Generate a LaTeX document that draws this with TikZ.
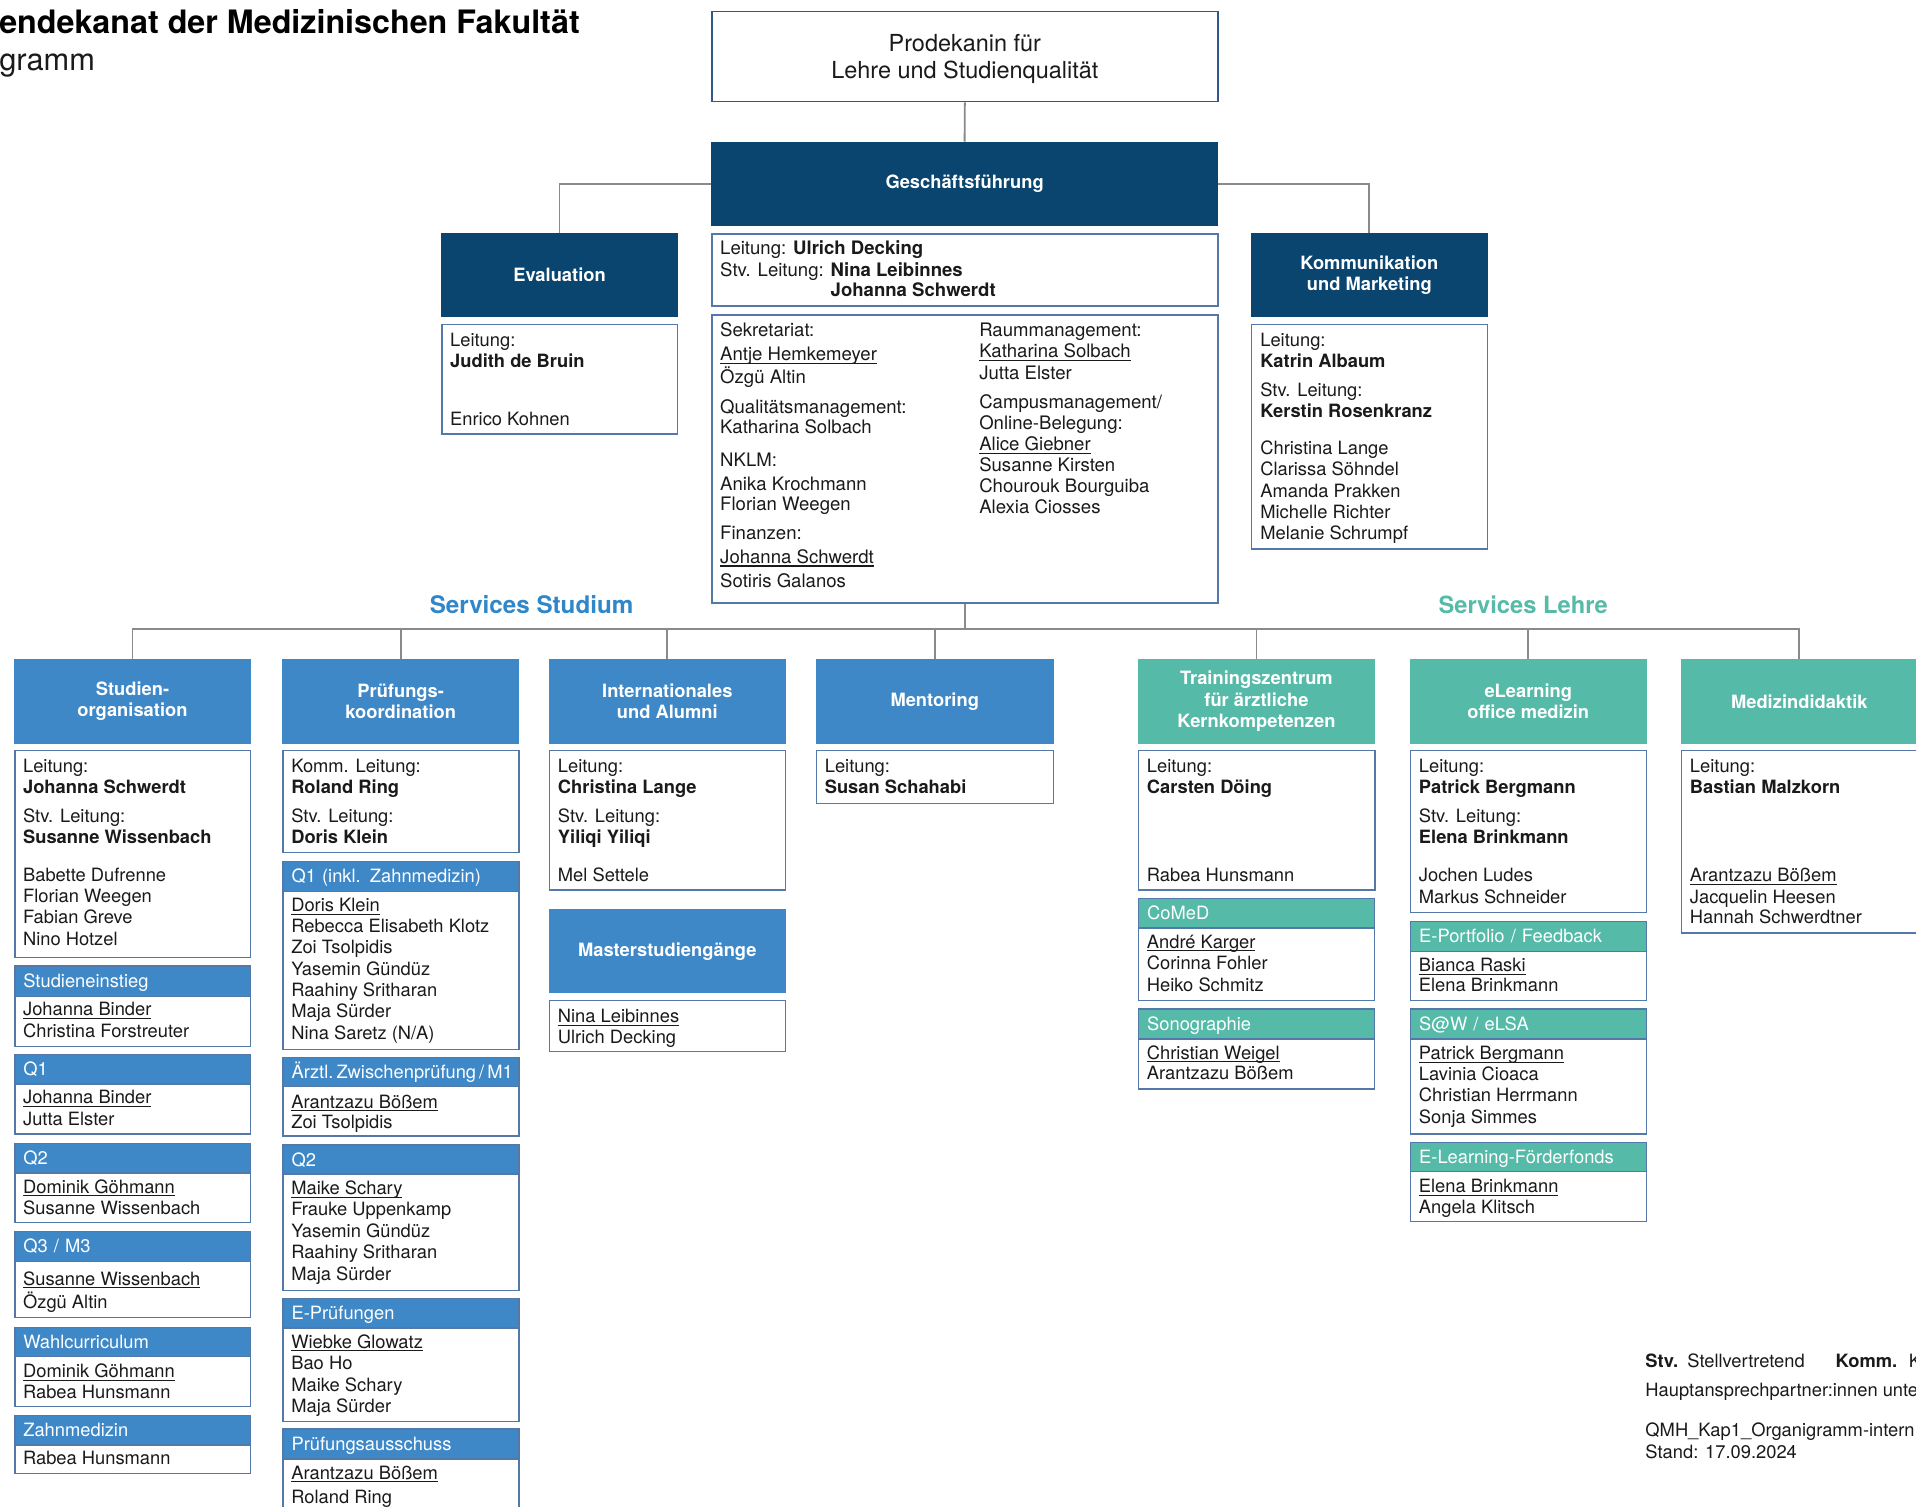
\documentclass[tikz,border=0pt]{standalone}
\usepackage{fontspec}
\setmainfont{TeX Gyre Heros}
\definecolor{navy}{HTML}{0A4570}
\definecolor{mblue}{HTML}{3E88C8}
\definecolor{tealc}{HTML}{55BAA8}
\definecolor{sblue}{HTML}{2F86C8}
\definecolor{bordc}{HTML}{5478A8}
\definecolor{bordd}{HTML}{2E5A8A}
\definecolor{lineg}{HTML}{8A8A8A}
\definecolor{txtc}{HTML}{1A1A1A}
\newcommand\bodyfont{\fontsize{7.5pt}{9pt}\selectfont}
\newcommand\midfont{\fontsize{7.6pt}{9pt}\selectfont}
\newcommand\hdrfont{\fontsize{7.5pt}{8.7pt}\selectfont\bfseries}
\newcommand\prodfont{\fontsize{9.6pt}{10.85pt}\selectfont}
\newcommand\ulname[1]{\setbox0=\hbox{#1}\rlap{\vrule height -0.85pt depth 1.3pt width \wd0}\box0}
\newcount\tcnt
\newcommand\txl[4][bodyt]{\global\advance\tcnt by 1\relax\edef\tnm{t\the\tcnt}\node[#1] (\tnm) at (#2,#3) {#4};}
\newcommand\bx[6]{\node[#2,minimum width=#5*0.5pt,minimum height=#6*0.5pt] (#1) at (#3,#4) {};}
\newcommand\hdr[7]{\node[#2,minimum width=#5*0.5pt,minimum height=#6*0.5pt] (#1) at (#3,#4) {#7};}
% name, fill, x, top, divider, bottom, label
\newcommand\subsec[7]{%
  \node[subhdr,fill=#2,minimum width=96.5pt,minimum height=(#5-#4)*0.5pt] (#1h) at (#3,#4) {#7};
  \node[wbox,minimum width=96.5pt,minimum height=(#6-#5)*0.5pt] (#1b) at (#3,#5) {};}
\begin{document}
\begin{tikzpicture}[x=0.5pt,y=-0.5pt,
 conn/.style={draw=lineg,line width=0.75pt},
 hdrbase/.style={anchor=north west,inner sep=0pt,text=white,font=\hdrfont,align=center},
 navyhdr/.style={hdrbase,fill=navy,draw=navy},
 bluehdr/.style={hdrbase,fill=mblue,draw=mblue},
 tealhdr/.style={hdrbase,fill=tealc,draw=tealc},
 wbox/.style={anchor=north west,inner sep=0pt,fill=white,draw=bordc,line width=0.6pt},
 subhdr/.style={anchor=north west,draw=bordc,line width=0.6pt,text=white,font=\bodyfont,inner xsep=3.5pt,inner ysep=0pt,text width=89.5pt,align=left,text height=5.4pt,text depth=0pt},
 bodyt/.style={anchor=base west,inner sep=0pt,font=\bodyfont,text=txtc},
 midt/.style={bodyt,font=\midfont}]
\useasboundingbox (0,0) rectangle (1568,1233);
\clip (0,0) rectangle (1568,1233);
\fill[white] (0,0) rectangle (1568,1233);

% ---------- title ----------
\node[anchor=base west,inner sep=0pt,font=\fontsize{13.2pt}{15pt}\selectfont\bfseries,text=black] (title) at (-1,27.5) {endekanat der Medizinischen Fakultät};
\node[anchor=base west,inner sep=0pt,font=\fontsize{12.6pt}{15pt}\selectfont,text=txtc] (subtitle) at (-1,57.8) {gramm};

% ---------- top level ----------
\node[wbox,draw=bordd,minimum width=207pt,minimum height=36.75pt] (pd) at (582,9) {};
\node[inner sep=0pt,font=\prodfont,align=center,text=txtc,yshift=-1pt] (pdt) at (pd.center) {Prodekanin für\\Lehre und Studienqualität};
\hdr{gf}{navyhdr}{582}{115.8}{414}{68.6}{Geschäftsführung}
\bx{gl}{wbox}{582}{190.8}{414}{59.2}
\txl[midt]{589}{208.6}{Leitung: \textbf{Ulrich Decking}}
\txl[midt]{589}{226.4}{Stv. Leitung: \textbf{Nina Leibinnes}}
\txl[midt]{589}{243}{\phantom{Stv. Leitung: }\textbf{Johanna Schwerdt}}
\bx{sek}{wbox}{582}{257}{414}{236}
\txl[midt]{589}{275}{Sekretariat:}
\txl[midt]{589}{295}{\ulname{Antje Hemkemeyer}}
\txl[midt]{589}{313.7}{Özgü Altin}
\txl[midt]{589}{338}{Qualitätsmanagement:}
\txl[midt]{589}{355}{Katharina Solbach}
\txl[midt]{589}{381.7}{NKLM:}
\txl[midt]{589}{401}{Anika Krochmann}
\txl[midt]{589}{418}{Florian Weegen}
\txl[midt]{589}{441.5}{Finanzen:}
\txl[midt]{589}{461}{\ulname{Johanna Schwerdt}}
\txl[midt]{589}{481}{Sotiris Galanos}
\txl[midt]{801}{275}{Raummanagement:}
\txl[midt]{801}{292.7}{\ulname{Katharina Solbach}}
\txl[midt]{801}{310.5}{Jutta Elster}
\txl[midt]{801}{334}{Campusmanagement/}
\txl[midt]{801}{351.6}{Online-Belegung:}
\txl[midt]{801}{368.7}{\ulname{Alice Giebner}}
\txl[midt]{801}{385.9}{Susanne Kirsten}
\txl[midt]{801}{403.3}{Chourouk Bourguiba}
\txl[midt]{801}{420.5}{Alexia Ciosses}

\hdr{evh}{navyhdr}{361}{190.7}{193}{68.3}{Evaluation}
\bx{evb}{wbox}{361}{265}{193}{89.6}
\txl{368}{283.7}{Leitung:}
\txl{368}{301}{\textbf{Judith de Bruin}}
\txl{368}{347.8}{Enrico Kohnen}

\hdr{kmh}{navyhdr}{1023.7}{190.7}{193}{68.3}{Kommunikation\\und Marketing}
\bx{kmb}{wbox}{1023.7}{265}{193}{183.6}
\txl{1031}{283.7}{Leitung:}
\txl{1031}{300.6}{\textbf{Katrin Albaum}}
\txl{1031}{324.6}{Stv. Leitung:}
\txl{1031}{341.8}{\textbf{Kerstin Rosenkranz}}
\txl{1031}{372.3}{Christina Lange}
\txl{1031}{389.5}{Clarissa Söhndel}
\txl{1031}{407}{Amanda Prakken}
\txl{1031}{424.2}{Michelle Richter}
\txl{1031}{441.3}{Melanie Schrumpf}

\draw[conn] (pd.south) -- (gf.north);
\draw[conn] (gf.west) -| (evh.north);
\draw[conn] (gf.east) -| (kmh.north);

% ---------- section labels ----------
\node[anchor=base,inner sep=0pt,font=\fontsize{9.9pt}{11pt}\selectfont\bfseries,text=sblue] (lstud) at (435,502) {Services Studium};
\node[anchor=base,inner sep=0pt,font=\fontsize{9.7pt}{11pt}\selectfont\bfseries,text=tealc] (llehre) at (1246.5,502) {Services Lehre};

% ---------- column headers ----------
\hdr{so}{bluehdr}{11.5}{539.3}{193}{68.4}{Studien-\\organisation}
\hdr{pk}{bluehdr}{231}{539.3}{193}{68.4}{Prüfungs-\\koordination}
\hdr{ia}{bluehdr}{449.2}{539.3}{193}{68.4}{Internationales\\und Alumni}
\hdr{me}{bluehdr}{667.6}{539.3}{193.9}{68.4}{Mentoring}
\hdr{tz}{tealhdr}{931.2}{539.3}{193.3}{68.4}{Trainingszentrum\\für ärztliche\\Kernkompetenzen}
\hdr{el}{tealhdr}{1153.8}{539.3}{193}{68.4}{eLearning\\office medizin}
\hdr{md}{tealhdr}{1375.6}{539.3}{193}{68.4}{Medizindidaktik}

\coordinate (bus) at (0,515);
\draw[conn] (sek.south) -- (sek.south |- bus);
\draw[conn] (so.north) -- (so.north |- bus) -- (md.north |- bus) -- (md.north);
\foreach \c in {pk,ia,me,tz,el} { \draw[conn] (\c.north) -- (\c.north |- bus); }

% ---------- column 1: Studienorganisation ----------
\bx{sob}{wbox}{11.5}{613.7}{193}{169.3}
\txl{18.5}{632}{Leitung:}
\txl{18.5}{649.2}{\textbf{Johanna Schwerdt}}
\txl{18.5}{673.2}{Stv. Leitung:}
\txl{18.5}{690.5}{\textbf{Susanne Wissenbach}}
\txl{18.5}{721.5}{Babette Dufrenne}
\txl{18.5}{738.7}{Florian Weegen}
\txl{18.5}{756}{Fabian Greve}
\txl{18.5}{773.5}{Nino Hotzel}
\subsec{sa}{mblue}{11.5}{790}{814.8}{855.7}{Studieneinstieg}
\txl{18.5}{831.4}{\ulname{Johanna Binder}}
\txl{18.5}{849}{Christina Forstreuter}
\subsec{sb}{mblue}{11.5}{862.5}{886.5}{927.4}{Q1}
\txl{18.5}{903.4}{\ulname{Johanna Binder}}
\txl{18.5}{921}{Jutta Elster}
\subsec{sc}{mblue}{11.5}{935}{959.3}{1000}{Q2}
\txl{18.5}{976.5}{\ulname{Dominik Göhmann}}
\txl{18.5}{993.5}{Susanne Wissenbach}
\subsec{sd}{mblue}{11.5}{1007}{1031.6}{1077.5}{Q3 / M3}
\txl{18.5}{1051.6}{\ulname{Susanne Wissenbach}}
\txl{18.5}{1070.6}{Özgü Altin}
\subsec{se}{mblue}{11.5}{1085.6}{1109.6}{1150.6}{Wahlcurriculum}
\txl{18.5}{1127.4}{\ulname{Dominik Göhmann}}
\txl{18.5}{1144.3}{Rabea Hunsmann}
\subsec{sf}{mblue}{11.5}{1157.7}{1181.9}{1205.1}{Zahnmedizin}
\txl{18.5}{1198.8}{Rabea Hunsmann}

% ---------- column 2: Prüfungskoordination ----------
\bx{pkb}{wbox}{231}{613.7}{193}{83.3}
\txl{238}{632}{Komm. Leitung:}
\txl{238}{649.2}{\textbf{Roland Ring}}
\txl{238}{673.2}{Stv. Leitung:}
\txl{238}{690.5}{\textbf{Doris Klein}}
\subsec{pa}{mblue}{231}{704.3}{728.9}{858.4}{Q1 (inkl. Zahnmedizin)}
\txl{238}{746}{\ulname{Doris Klein}}
\txl{238}{763.2}{Rebecca Elisabeth Klotz}
\txl{238}{780}{Zoi Tsolpidis}
\txl{238}{797.9}{Yasemin Gündüz}
\txl{238}{815.6}{Raahiny Sritharan}
\txl{238}{832.8}{Maja Sürder}
\txl{238}{850.5}{Nina Saretz (N/A)}
\subsec{pb}{mblue}{231}{864.7}{888.7}{929}{Ärztl.\,Zwischenprüfung\,/\,M1}
\txl{238}{907}{\ulname{Arantzazu Bößem}}
\txl{238}{923.3}{Zoi Tsolpidis}
\subsec{pc}{mblue}{231}{936.4}{960.2}{1055.6}{Q2}
\txl{238}{977.9}{\ulname{Maike Schary}}
\txl{238}{995}{Frauke Uppenkamp}
\txl{238}{1012.5}{Yasemin Gündüz}
\txl{238}{1030.3}{Raahiny Sritharan}
\txl{238}{1047.5}{Maja Sürder}
\subsec{pd2}{mblue}{231}{1061.9}{1086.2}{1162.6}{E-Prüfungen}
\txl{238}{1103.4}{\ulname{Wiebke Glowatz}}
\txl{238}{1121}{Bao Ho}
\txl{238}{1138.9}{Maike Schary}
\txl{238}{1155.7}{Maja Sürder}
\subsec{pe}{mblue}{231}{1168.8}{1193.4}{1260}{Prüfungsausschuss}
\txl{238}{1210.6}{\ulname{Arantzazu Bößem}}
\txl{238}{1230.2}{Roland Ring}

% ---------- column 3: Internationales ----------
\bx{iab}{wbox}{449.2}{613.7}{193}{114.1}
\txl{456.2}{632}{Leitung:}
\txl{456.2}{649.2}{\textbf{Christina Lange}}
\txl{456.2}{673.2}{Stv. Leitung:}
\txl{456.2}{690}{\textbf{Yiliqi Yiliqi}}
\txl{456.2}{721.5}{Mel Settele}
\hdr{ms}{bluehdr}{449.2}{744.1}{193}{67.9}{Masterstudiengänge}
\bx{msb}{wbox}{449.2}{818.3}{193}{41.7}
\txl{456.2}{836.9}{\ulname{Nina Leibinnes}}
\txl{456.2}{853.8}{Ulrich Decking}

% ---------- column 4: Mentoring ----------
\bx{meb}{wbox}{667.6}{613.7}{193.9}{43.2}
\txl{674.6}{632}{Leitung:}
\txl{674.6}{649.2}{\textbf{Susan Schahabi}}

% ---------- column 5: Trainingszentrum ----------
\bx{tzb}{wbox}{931.2}{613.7}{193.3}{114.1}
\txl{938.2}{632}{Leitung:}
\txl{938.2}{649.2}{\textbf{Carsten Döing}}
\txl{938.2}{721.5}{Rabea Hunsmann}
\subsec{ta}{tealc}{931.2}{734.6}{758.9}{818.3}{CoMeD}
\txl{938.2}{776}{\ulname{André Karger}}
\txl{938.2}{793.8}{Corinna Fohler}
\txl{938.2}{811}{Heiko Schmitz}
\subsec{tb}{tealc}{931.2}{825.1}{849.7}{890.6}{Sonographie}
\txl{938.2}{866.9}{\ulname{Christian Weigel}}
\txl{938.2}{883.8}{Arantzazu Bößem}

% ---------- column 6: eLearning ----------
\bx{elb}{wbox}{1153.8}{613.7}{193}{132.3}
\txl{1160.8}{632}{Leitung:}
\txl{1160.8}{649.2}{\textbf{Patrick Bergmann}}
\txl{1160.8}{673.2}{Stv. Leitung:}
\txl{1160.8}{690}{\textbf{Elena Brinkmann}}
\txl{1160.8}{721.5}{Jochen Ludes}
\txl{1160.8}{739.2}{Markus Schneider}
\subsec{ea}{tealc}{1153.8}{753.4}{778}{818.3}{E-Portfolio / Feedback}
\txl{1160.8}{795.2}{\ulname{Bianca Raski}}
\txl{1160.8}{811.5}{Elena Brinkmann}
\subsec{eb}{tealc}{1153.8}{825.3}{849.7}{927.4}{S@W / eLSA}
\txl{1160.8}{867.2}{\ulname{Patrick Bergmann}}
\txl{1160.8}{884.5}{Lavinia Cioaca}
\txl{1160.8}{901.5}{Christian Herrmann}
\txl{1160.8}{919.2}{Sonja Simmes}
\subsec{ec}{tealc}{1153.8}{934.3}{958.3}{999.2}{E-Learning-Förderfonds}
\txl{1160.8}{976}{\ulname{Elena Brinkmann}}
\txl{1160.8}{992.9}{Angela Klitsch}

% ---------- column 7: Medizindidaktik ----------
\bx{mdb}{wbox}{1375.6}{613.7}{193}{149.3}
\txl{1382.6}{632}{Leitung:}
\txl{1382.6}{649.2}{\textbf{Bastian Malzkorn}}
\txl{1382.6}{721.5}{\ulname{Arantzazu Bößem}}
\txl{1382.6}{739.2}{Jacquelin Heesen}
\txl{1382.6}{756.1}{Hannah Schwerdtner}

% ---------- footer ----------
\txl{1346.2}{1119.2}{\textbf{Stv.}}
\txl{1380.5}{1119.2}{Stellvertretend}
\txl{1501.9}{1119.2}{\textbf{Komm.}}
\txl{1561.8}{1119.2}{K}
\txl{1346.2}{1142.9}{Hauptansprechpartner:innen unte}
\txl{1346.2}{1175.7}{QMH\_Kap1\_Organigramm-intern}
\txl{1346.2}{1193.4}{Stand: 17.09.2024}
\end{tikzpicture}
\end{document}
